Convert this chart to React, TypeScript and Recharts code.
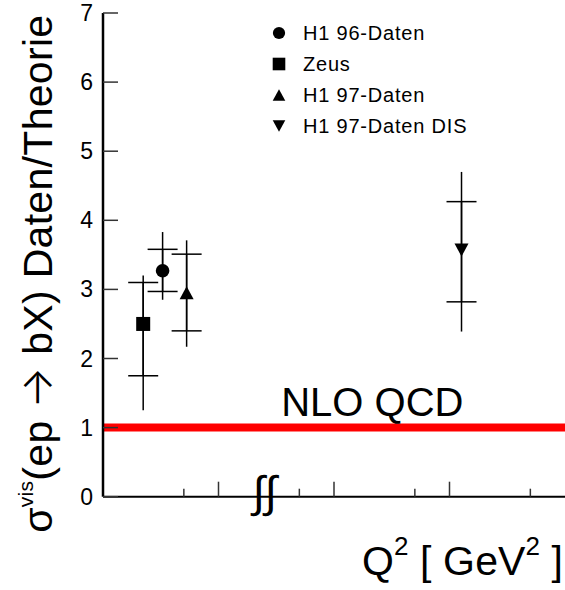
import React from 'react';
import {
  ComposedChart,
  Scatter,
  ErrorBar,
  XAxis,
  YAxis,
  ReferenceLine,
  ReferenceDot,
  Legend,
} from 'recharts';

const seriesNames = ['H1 96-Daten', 'Zeus', 'H1 97-Daten', 'H1 97-Daten DIS'];
const seriesMarkers = ['circle', 'square', 'triangleUp', 'triangleDown'];
const xPositions = [12.9, 8.7, 18.1, 77.6];
const ratioValues = [3.27, 2.5, 2.95, 3.57];
const statErrLow = [0.3, 0.75, 0.55, 0.75];
const statErrHigh = [0.31, 0.6, 0.56, 0.7];
const totErrLow = [0.42, 1.25, 0.78, 1.18];
const totErrHigh = [0.56, 0.7, 0.76, 1.13];
const yTicks = [0, 1, 2, 3, 4, 5, 6, 7];
const xMajorTicks = [25, 50, 75];
const xMinorTicks = [17.5, 42.5, 67.5, 92.5];
const theoryValue = 1;
const theoryLabel = 'NLO QCD';
const axisBreakPosition = 35;

const FONT = '"Liberation Sans", Arial, Helvetica, sans-serif';

const seriesData = seriesNames.map((name, i) => [
  {
    x: xPositions[i],
    y: ratioValues[i],
    stat: [statErrLow[i], statErrHigh[i]],
    tot: [totErrLow[i], totErrHigh[i]],
  },
]);

const Marker = ({ cx, cy, kind, s = 1 }: any) => {
  if (cx == null || cy == null) return null;
  if (kind === 'circle') return <circle cx={cx} cy={cy} r={6.8 * s} fill="#000" />;
  if (kind === 'square') {
    const h = 7 * s;
    return <rect x={cx - h} y={cy - h} width={2 * h} height={2 * h} fill="#000" />;
  }
  const w = 7 * s;
  const h = 6.5 * s;
  if (kind === 'triangleUp')
    return <polygon points={`${cx - w},${cy + h} ${cx + w},${cy + h} ${cx},${cy - h}`} fill="#000" />;
  return <polygon points={`${cx - w},${cy - h} ${cx + w},${cy - h} ${cx},${cy + h}`} fill="#000" />;
};

const YTick = (props: any) => {
  const { x, y, payload } = props;
  return (
    <g>
      <line x1={x} y1={y} x2={x + 15} y2={y} stroke="#333" strokeWidth={1.5} />
      <text x={x - 10} y={y} textAnchor="end" dominantBaseline="central" fontSize={23} fontFamily={FONT} fill="#000">
        {payload.value}
      </text>
    </g>
  );
};

const XTick = (props: any) => {
  const { x, y, payload } = props;
  const len = xMajorTicks.includes(payload.value) ? 15 : 8;
  return <line x1={x} y1={y} x2={x} y2={y - len} stroke="#333" strokeWidth={1.5} />;
};

const YLabel = (props: any) => {
  const vb = props.viewBox || { x: 0, y: 13, width: 103, height: 484 };
  const cx = vb.x + 52;
  const cy = vb.y + vb.height / 2 + 19;
  return (
    <text
      transform={`translate(${cx},${cy}) rotate(-90)`}
      textAnchor="middle"
      fontSize={41}
      fontFamily={FONT}
      fill="#000"
      textLength={518}
      lengthAdjust="spacing"
      style={{ whiteSpace: 'pre' }}
    >
      <tspan>σ</tspan>
      <tspan fontSize={21} dy={-19}>vis</tspan>
      <tspan dy={19}>(ep </tspan>
      <tspan fontFamily='Inter, "DejaVu Sans"' fontWeight={300} fontSize={44}>→</tspan>
      <tspan> bX) Daten/Theorie</tspan>
    </text>
  );
};

const XLabel = (props: any) => {
  const vb = props.viewBox || { x: 103, y: 497, width: 462, height: 40 };
  return (
    <text
      x={vb.x + vb.width - 2}
      y={vb.y + 78}
      textAnchor="end"
      fontSize={41}
      fontFamily={FONT}
      fill="#000"
      textLength={201}
      lengthAdjust="spacing"
      style={{ whiteSpace: 'pre' }}
    >
      <tspan>Q</tspan>
      <tspan fontSize={26} dy={-20}>2</tspan>
      <tspan dy={20}> [ GeV</tspan>
      <tspan fontSize={26} dy={-20}>2</tspan>
      <tspan dy={20}> ]</tspan>
    </text>
  );
};

const TheoryLabel = (props: any) => {
  const vb = props.viewBox || { x: 103, y: 427, width: 462 };
  return (
    <text
      x={vb.x + vb.width * 0.583}
      y={vb.y - 11.5}
      textAnchor="middle"
      fontSize={40}
      fontFamily={FONT}
      fill="#000"
    >
      {theoryLabel}
    </text>
  );
};

const BreakLabel = (props: any) => {
  const vb = props.viewBox || { x: 0, y: 0, width: 0, height: 0 };
  const cx = vb.x + (vb.width || 0) / 2;
  const cy = vb.y + (vb.height || 0) / 2;
  return (
    <text x={cx} y={cy - 5} textAnchor="middle" dominantBaseline="central" fontSize={44} fontFamily={FONT} fill="#000">
      ∫∫
    </text>
  );
};

const LegendContent = () => (
  <div style={{ fontFamily: FONT, fontSize: 20, color: '#000' }}>
    {seriesNames.map((name, i) => (
      <div key={name} style={{ display: 'flex', alignItems: 'center', height: 31 }}>
        <svg width={16} height={16} style={{ display: 'block' }}>
          <Marker cx={8} cy={8} kind={seriesMarkers[i]} s={0.9} />
        </svg>
        <span style={{ marginLeft: 16, whiteSpace: 'nowrap', letterSpacing: 0.8 }}>{name}</span>
      </div>
    ))}
  </div>
);

export default function App() {
  return (
    <div style={{ position: 'absolute', left: 0, top: 0, width: 565, height: 590, background: '#fff' }}>
      <ComposedChart width={565} height={590} margin={{ top: 13, right: 0, bottom: 53.3, left: 0 }}>
        <XAxis
          xAxisId={0}
          type="number"
          dataKey="x"
          domain={[0, 100]}
          ticks={[...xMinorTicks, ...xMajorTicks].sort((a, b) => a - b)}
          interval={0}
          height={40}
          tickSize={0}
          tickMargin={0}
          tickLine={false}
          tick={<XTick />}
          axisLine={{ stroke: '#000', strokeWidth: 2 }}
          allowDataOverflow
          label={<XLabel />}
        />
        <XAxis
          xAxisId="top"
          orientation="top"
          type="number"
          domain={[0, 100]}
          height={0}
          tick={false}
          tickLine={false}
          axisLine={{ stroke: '#777', strokeWidth: 1 }}
        />
        <YAxis
          type="number"
          dataKey="y"
          domain={[0, 7]}
          ticks={yTicks}
          interval={0}
          width={103}
          tickSize={0}
          tickMargin={0}
          tickLine={false}
          tick={<YTick />}
          axisLine={{ stroke: '#000', strokeWidth: 2.5 }}
          allowDataOverflow
          label={<YLabel />}
        />
        <ReferenceLine
          y={theoryValue}
          stroke="#ff0000"
          strokeWidth={8}
          label={<TheoryLabel />}
          isFront={false}
        />
        <ReferenceDot x={axisBreakPosition} y={0} r={0} fill="none" stroke="none" label={<BreakLabel />} />
        {seriesNames.map((name, i) => (
          <Scatter
            key={name}
            name={name}
            data={seriesData[i]}
            isAnimationActive={false}
            shape={(p: any) => <Marker cx={p.cx} cy={p.cy} kind={seriesMarkers[i]} />}
          >
            <ErrorBar dataKey="tot" direction="y" width={0} stroke="#000" strokeWidth={1.5} />
            <ErrorBar dataKey="stat" direction="y" width={15} stroke="#000" strokeWidth={1.5} />
          </Scatter>
        ))}
        <Legend
          layout="vertical"
          align="center"
          verticalAlign="middle"
          content={<LegendContent />}
          wrapperStyle={{ position: 'absolute', left: 271, top: 17.5, width: 'auto', height: 'auto', margin: 0 }}
        />
      </ComposedChart>
    </div>
  );
}
